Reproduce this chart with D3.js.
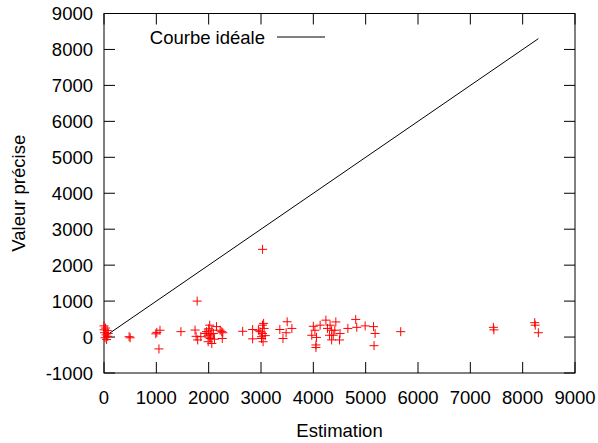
<!DOCTYPE html>
<html><head><meta charset="utf-8">
<script src="https://cdn.jsdelivr.net/npm/d3@7"></script>
<style>body{margin:0;background:#fff}svg text{font-family:"Liberation Sans",Arial,sans-serif}</style>
</head><body>
<script>
const estimation = [0,30,60,10,40,70,20,50,0,80,480,500,990,1010,1070,1050,1470,1780,1740,1760,1790,1850,
1930,1960,1990,1990,2020,2030,2060,2060,2090,2150,2020,2040,2000,2110,2220,2250,2260,2270,2650,2840,2840,
2950,2980,3010,3010,3030,3030,3050,3060,3080,3040,3030,3360,3420,3480,3500,3590,
3970,4000,4030,4050,4050,4060,4130,4240,4270,4310,4320,4350,4350,4380,4410,4430,4500,4510,4660,4810,4830,4990,5150,5180,5160,
5670,7440,7450,8230,8240,8300];
const valeur = [310,250,180,120,60,20,-20,-70,200,100,10,-20,90,130,190,-330,150,1000,195,20,-80,10,
100,150,50,-130,330,-40,190,-180,100,290,0,80,230,-60,190,150,-40,120,160,210,-50,
190,150,10,-40,330,100,380,240,40,-130,2440,210,-40,120,425,240,
50,300,190,-220,-290,-10,330,470,240,50,330,190,-80,50,190,420,-80,100,240,490,270,310,290,100,-240,
150,270,200,400,330,120];
const idealX = [0, 8300];
const xTicks = [0,1000,2000,3000,4000,5000,6000,7000,8000,9000];
const yTicks = [-1000,0,1000,2000,3000,4000,5000,6000,7000,8000,9000];
const legendLabel = "Courbe idéale";
const xLabel = "Estimation", yLabel = "Valeur précise";

const W=598,H=443, L=104, R=575, T=13.5, B=373;
const svg=d3.select("body").append("svg").attr("width",W).attr("height",H);
const x=d3.scaleLinear().domain([0,9000]).range([L,R]);
const y=d3.scaleLinear().domain([-1000,9000]).range([B,T]);
const tl=11, fs=18.5;
const g=svg.append("g");
xTicks.forEach(v=>{
  g.append("line").attr("x1",x(v)).attr("x2",x(v)).attr("y1",B).attr("y2",B-tl).attr("stroke","#000");
  g.append("line").attr("x1",x(v)).attr("x2",x(v)).attr("y1",T).attr("y2",T+tl).attr("stroke","#000");
  g.append("text").attr("x",x(v)).attr("y",404).attr("text-anchor","middle").attr("font-size",fs).text(v);
});
yTicks.forEach(v=>{
  g.append("line").attr("x1",L).attr("x2",L+tl).attr("y1",y(v)).attr("y2",y(v)).attr("stroke","#000");
  g.append("line").attr("x1",R).attr("x2",R-tl).attr("y1",y(v)).attr("y2",y(v)).attr("stroke","#000");
  g.append("text").attr("x",93).attr("y",y(v)+6.5).attr("text-anchor","end").attr("font-size",fs).text(v);
});
g.append("rect").attr("x",L).attr("y",T).attr("width",R-L).attr("height",B-T).attr("fill","none").attr("stroke","#000");
svg.append("path").datum(idealX).attr("d",d3.line().x(d=>x(d)).y(d=>y(d))).attr("stroke","#000").attr("fill","none");
const pts=svg.append("g").attr("stroke","#ff0000").attr("stroke-width",1);
estimation.forEach((e,i)=>{
  const px=x(e), py=y(valeur[i]);
  pts.append("path").attr("d",`M${px-4.5},${py}H${px+4.5}M${px},${py-4.5}V${py+4.5}`);
});
svg.append("text").attr("x",265).attr("y",43.5).attr("text-anchor","end").attr("font-size",fs).text(legendLabel);
svg.append("line").attr("x1",277).attr("x2",325).attr("y1",37).attr("y2",37).attr("stroke","#000");
svg.append("text").attr("x",(L+R)/2).attr("y",437).attr("text-anchor","middle").attr("font-size",fs).text(xLabel);
svg.append("text").attr("transform",`translate(25,${(T+B)/2}) rotate(-90)`).attr("text-anchor","middle").attr("font-size",fs).text(yLabel);
</script>
</body></html>
